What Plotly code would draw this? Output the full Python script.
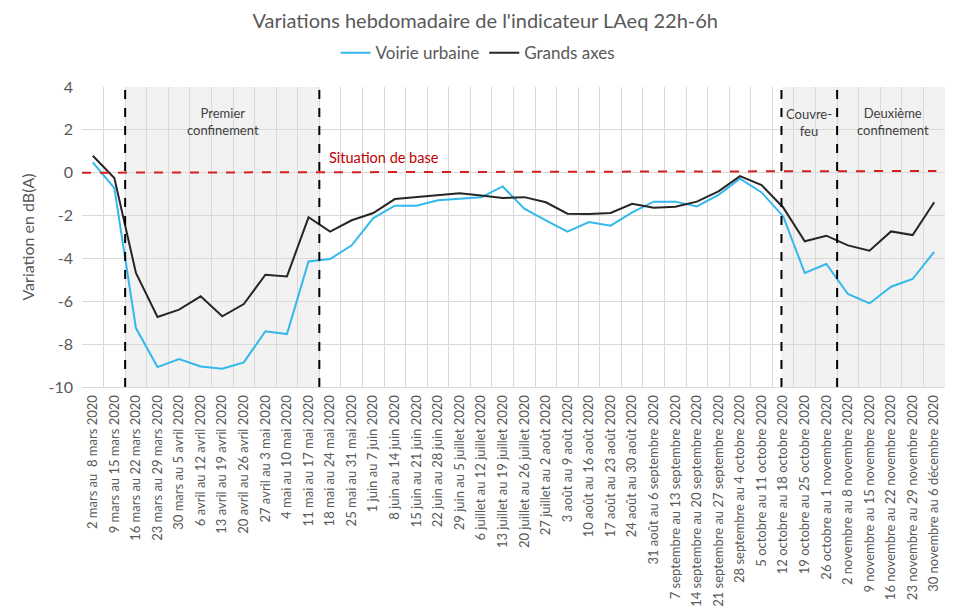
import plotly.graph_objects as go

categories = [
    "2 mars au  8 mars 2020", "9 mars au 15 mars 2020", "16 mars au 22 mars 2020",
    "23 mars au 29 mars 2020", "30 mars au 5 avril 2020", "6 avril au 12 avril 2020",
    "13 avril au 19 avril 2020", "20 avril au 26 avril 2020", "27 avril au 3 mai 2020",
    "4 mai au 10 mai 2020", "11 mai au 17 mai 2020", "18 mai au 24 mai 2020",
    "25 mai au 31 mai 2020", "1 juin au 7 juin 2020", "8 juin au 14 juin 2020",
    "15 juin au 21 juin 2020", "22 juin au 28 juin 2020", "29 juin au 5 juillet 2020",
    "6 juillet au 12 juillet 2020", "13 juillet au 19 juillet 2020",
    "20 juillet au 26 juillet 2020", "27 juillet au 2 août 2020", "3 août au 9 août 2020",
    "10 août au 16 août 2020", "17 août au 23 août 2020", "24 août au 30 août 2020",
    "31 août au 6 septembre 2020", "7 septembre au 13 septembre 2020",
    "14 septembre au 20 septembre 2020", "21 septembre au 27 septembre 2020",
    "28 septembre au 4 octobre 2020", "5 octobre au 11 octobre 2020",
    "12 octobre au 18 octobre 2020", "19 octobre au 25 octobre 2020",
    "26 octobre au 1 novembre 2020", "2 novembre au 8 novembre 2020",
    "9 novembre au 15 novembre 2020", "16 novembre au 22 novembre 2020",
    "23 novembre au 29 novembre 2020", "30 novembre au 6 décembre 2020",
]

voirie_urbaine = [
    0.48, -0.72, -7.25, -9.07, -8.70, -9.04, -9.15, -8.85, -7.40, -7.53,
    -4.14, -4.03, -3.39, -2.12, -1.54, -1.54, -1.29, -1.21, -1.15, -0.64,
    -1.68, -2.22, -2.75, -2.30, -2.47, -1.85, -1.35, -1.35, -1.57, -1.03,
    -0.28, -0.92, -2.04, -4.68, -4.26, -5.66, -6.10, -5.32, -4.96, -3.69,
]

grands_axes = [
    0.79, -0.25, -4.68, -6.73, -6.39, -5.77, -6.70, -6.13, -4.76, -4.84,
    -2.08, -2.75, -2.22, -1.88, -1.23, -1.14, -1.03, -0.96, -1.06, -1.18,
    -1.14, -1.38, -1.91, -1.93, -1.88, -1.45, -1.63, -1.59, -1.35, -0.87,
    -0.16, -0.58, -1.62, -3.20, -2.94, -3.39, -3.64, -2.74, -2.91, -1.38,
]

y_ticks = [4, 2, 0, -2, -4, -6, -8, -10]
y_tick_labels = ["4", "2", "0", "-2", "-4", "-6", "-8", "-10"]

FONT = "Lato, 'Open Sans', sans-serif"
GRAY = "#595959"

fig = go.Figure()
fig.add_trace(go.Scatter(x=categories, y=voirie_urbaine, mode="lines",
                         name="Voirie urbaine", line=dict(color="#33b8ec", width=2)))
fig.add_trace(go.Scatter(x=categories, y=grands_axes, mode="lines",
                         name="Grands axes", line=dict(color="#262626", width=2)))

shapes = []
for x0, x1 in [(1.5, 10.5), (31.92, 39.5)]:
    shapes.append(dict(type="rect", xref="x", yref="y", x0=x0, x1=x1, y0=-10, y1=4,
                       fillcolor="#f2f2f2", line=dict(width=0), layer="below"))
shapes.append(dict(type="line", xref="x", yref="y", x0=-0.5, x1=39.1, y0=0, y1=0.08,
                   line=dict(color="#d42020", width=2, dash="dash")))
for xv in [1.5, 10.5, 31.92, 34.5]:
    shapes.append(dict(type="line", xref="x", yref="y", x0=xv, x1=xv, y0=-10, y1=4,
                       line=dict(color="#000000", width=2, dash="dash")))

annotations = [
    dict(x=6.05, y=2.4, text="Premier<br>confinement", showarrow=False,
         font=dict(family=FONT, size=13, color="#404040")),
    dict(x=10.85, y=0.7, text="Situation de base", showarrow=False, xanchor="left",
         font=dict(family=FONT, size=14.5, color="#c00000")),
    dict(x=33.2, y=2.35, text="Couvre-<br>feu", showarrow=False,
         font=dict(family=FONT, size=13, color="#404040")),
    dict(x=37.1, y=2.4, text="Deuxième<br>confinement", showarrow=False,
         font=dict(family=FONT, size=13, color="#404040")),
    dict(x=-0.0626, xref="paper", y=-2.98, yref="y", text="Variation en dB(A)",
         textangle=-90, showarrow=False, xanchor="center", yanchor="middle",
         font=dict(family=FONT, size=16, color=GRAY)),
]

# page body has an 8px default margin: figure is sized/placed to compensate
fig.update_layout(
    width=945, height=605,
    margin=dict(l=74, r=8, t=79, b=226),
    paper_bgcolor="white", plot_bgcolor="white",
    font=dict(family=FONT, color=GRAY),
    title=dict(text="Variations hebdomadaire de l'indicateur LAeq 22h-6h",
               x=0.505, xanchor="center", y=0.979, yanchor="middle",
               font=dict(family=FONT, size=20, color=GRAY)),
    legend=dict(orientation="h", x=0.4589, xanchor="center",
                y=1.113, yanchor="middle",
                font=dict(family=FONT, size=17, color=GRAY), itemwidth=30),
    shapes=shapes,
    annotations=annotations,
    showlegend=True,
)

fig.update_xaxes(
    type="category", categoryorder="array", categoryarray=categories,
    range=[-0.5, 39.5], tickson="boundaries", tickangle=-90, automargin=False,
    showgrid=True, gridcolor="#d9d9d9", gridwidth=1,
    showline=True, linecolor="#d9d9d9", linewidth=1, ticks="",
    tickfont=dict(family=FONT, size=13, color=GRAY), zeroline=False,
    ticklabelstandoff=2,
)
fig.update_yaxes(
    range=[-10, 4], tickvals=y_ticks, ticktext=y_tick_labels, automargin=False,
    showgrid=True, gridcolor="#d9d9d9", gridwidth=1,
    zeroline=False, showline=False, ticks="",
    tickfont=dict(family=FONT, size=16, color=GRAY), ticklabelstandoff=8,
)

fig.write_html("out.html")
